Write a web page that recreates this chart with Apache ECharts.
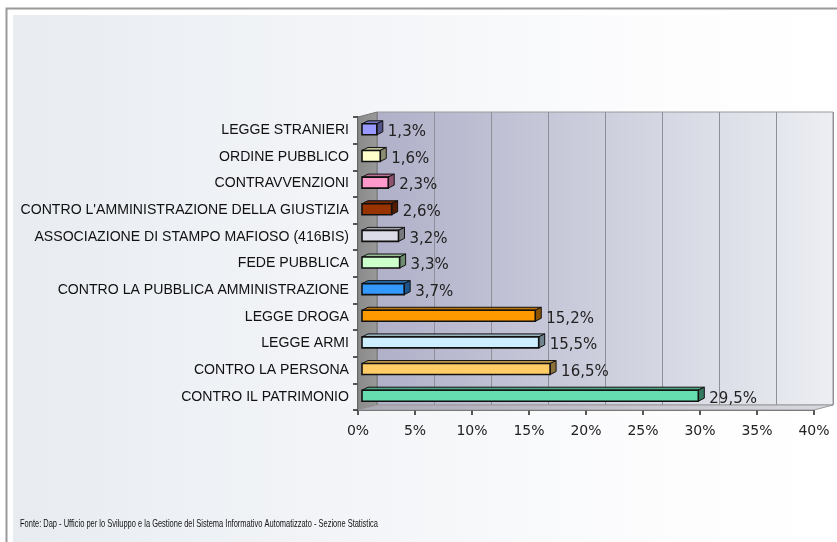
<!DOCTYPE html>
<html><head><meta charset="utf-8">
<script src="https://cdn.jsdelivr.net/npm/echarts@6/dist/echarts.min.js"></script>
<style>html,body{margin:0;padding:0;background:#fff}#c{width:837px;height:542px}</style>
</head><body><div id="c"></div>
<script>
// ---- data ----
const categories = [
  "LEGGE STRANIERI",
  "ORDINE PUBBLICO",
  "CONTRAVVENZIONI",
  "CONTRO L'AMMINISTRAZIONE DELLA GIUSTIZIA",
  "ASSOCIAZIONE DI STAMPO MAFIOSO (416BIS)",
  "FEDE PUBBLICA",
  "CONTRO LA PUBBLICA AMMINISTRAZIONE",
  "LEGGE DROGA",
  "LEGGE ARMI",
  "CONTRO LA PERSONA",
  "CONTRO IL PATRIMONIO"
];
const values = [1.3, 1.6, 2.3, 2.6, 3.2, 3.3, 3.7, 15.2, 15.5, 16.5, 29.5];
const barColors = ["#9999ff","#ffffcc","#ff99cc","#993300","#dcdce8","#ccffcc","#3399ff","#ff9900","#cceeff","#ffcc66","#66ddb0"];
const axisMin = 0, axisMax = 40, axisStep = 5;
const sourceText = "Fonte: Dap - Ufficio per lo Sviluppo e la Gestione del Sistema Informativo Automatizzato - Sezione Statistica";

// ---- layout ----
const W = 837, H = 542;
const FL = 358, FR = 814, FT = 117, FB = 410;   // front plane
const DX = 19, DY = 5;                            // depth offset

const chart = echarts.init(document.getElementById('c'), null, {renderer: 'canvas'});

function measure(text, font) {
  const cv = document.createElement('canvas').getContext('2d');
  cv.font = font; return cv.measureText(text).width;
}
function darken(col, f) {
  const a = echarts.color.parse(col);
  return 'rgb(' + Math.round(a[0] * f) + ',' + Math.round(a[1] * f) + ',' + Math.round(a[2] * f) + ')';
}
const footFont = '10.5px "Liberation Sans", Arial, sans-serif';
const footScale = 358 / measure(sourceText, footFont);

function renderBar(params, api) {
  const v = api.value(0), c = api.value(1);
  const p0 = api.coord([0, c]), p1 = api.coord([v, c]);
  const h = 11, dx = 6, dy = 3, off = 4;
  const x0 = p0[0] + off, x1 = p1[0] + off;
  const yc = p0[1] - 1;
  const yt = yc - h / 2, yb = yc + h / 2;
  const col = barColors[params.dataIndex];
  const side = darken(col, 0.55);
  const top = darken(col, 0.75);
  const label = v.toFixed(1).replace('.', ',') + '%';
  return {
    type: 'group',
    children: [
      {type: 'polygon', shape: {points: [[x0, yt], [x1, yt], [x1 + dx, yt - dy], [x0 + dx, yt - dy]]},
       style: {fill: top, stroke: '#111', lineWidth: 1}},
      {type: 'polygon', shape: {points: [[x1, yt], [x1 + dx, yt - dy], [x1 + dx, yb - dy], [x1, yb]]},
       style: {fill: side, stroke: '#111', lineWidth: 1}},
      {type: 'rect', shape: {x: x0, y: yt, width: x1 - x0, height: h},
       style: {fill: col, stroke: '#111', lineWidth: 1.6}},
      {type: 'text', x: x1 + dx + 5, y: yc + 3,
       style: {text: label, fill: '#222', font: '15px "DejaVu Sans", sans-serif', verticalAlign: 'middle', align: 'left'}}
    ]
  };
}

const option = {
  animation: false,
  backgroundColor: '#ffffff',
  graphic: [
    {type: 'rect', z: -10, shape: {x: 13, y: 15, width: W - 13, height: H - 15},
     style: {fill: new echarts.graphic.LinearGradient(0, 0, 1, 0, [
       {offset: 0, color: '#e8ecf1'}, {offset: 0.8, color: '#fdfdfe'}, {offset: 1, color: '#ffffff'}])}},
    {type: 'polyline', z: -9, shape: {points: [[6.5, H], [6.5, 8.5], [W, 8.5]]},
     style: {stroke: '#9a9a9a', lineWidth: 2, fill: null}},
    {type: 'polygon', z: 1, shape: {points: [[FL, FT], [FL + DX, FT - DY], [FL + DX, FB - DY], [FL, FB]]},
     style: {fill: new echarts.graphic.LinearGradient(0, 0, 1, 0, [
       {offset: 0, color: '#8a8a8a'}, {offset: 1, color: '#999999'}]), stroke: '#777', lineWidth: 1}},
    {type: 'polygon', z: 1, shape: {points: [[FL, FB], [FL + DX, FB - DY], [FR + DX, FB - DY], [FR, FB]]},
     style: {fill: new echarts.graphic.LinearGradient(0, 0, 1, 0, [
       {offset: 0, color: '#a9a9b6'}, {offset: 1, color: '#d8d9e0'}]), stroke: '#9a9a9a', lineWidth: 1}},
    {type: 'text', z: 5, x: 20, y: 524, scaleX: footScale,
     style: {text: sourceText, font: footFont, fill: '#111', verticalAlign: 'middle'}}
  ],
  grid: [
    {left: FL + DX, right: W - FR - DX, top: FT - DY, bottom: H - FB + DY, show: true,
     backgroundColor: new echarts.graphic.LinearGradient(0, 0, 1, 0, [
       {offset: 0, color: '#b0b0c9'}, {offset: 0.5, color: '#cdcfdd'}, {offset: 1, color: '#eceef3'}]),
     borderColor: '#9a9a9a', borderWidth: 1},
    {left: FL, right: W - FR, top: FT, bottom: H - FB}
  ],
  xAxis: [
    {gridIndex: 0, type: 'value', min: axisMin, max: axisMax, interval: axisStep,
     axisLine: {show: false}, axisTick: {show: false}, axisLabel: {show: false},
     splitLine: {show: true, lineStyle: {color: '#8f8f99', width: 1}}},
    {gridIndex: 1, type: 'value', min: axisMin, max: axisMax, interval: axisStep,
     axisLine: {show: true, lineStyle: {color: '#222', width: 1.5}},
     axisTick: {show: true, length: 5, lineStyle: {color: '#222', width: 1.5}},
     axisLabel: {margin: 14, color: '#222', fontSize: 14, fontFamily: 'DejaVu Sans',
       formatter: v => v + '%'},
     splitLine: {show: false}}
  ],
  yAxis: [
    {gridIndex: 0, type: 'category', data: categories, inverse: true, show: false},
    {gridIndex: 1, type: 'category', data: categories, inverse: true,
     axisLine: {show: true, lineStyle: {color: '#222', width: 1.5}},
     axisTick: {show: true, length: 5, lineStyle: {color: '#222', width: 1.5}},
     axisLabel: {margin: 9, color: '#111', fontSize: 14.1, fontFamily: 'Liberation Sans'},
     splitLine: {show: false}}
  ],
  series: [
    {type: 'custom', xAxisIndex: 1, yAxisIndex: 1, z: 5, clip: false,
     renderItem: renderBar,
     data: values.map((v, i) => [v, i])}
  ]
};
chart.setOption(option);
</script></body></html>
